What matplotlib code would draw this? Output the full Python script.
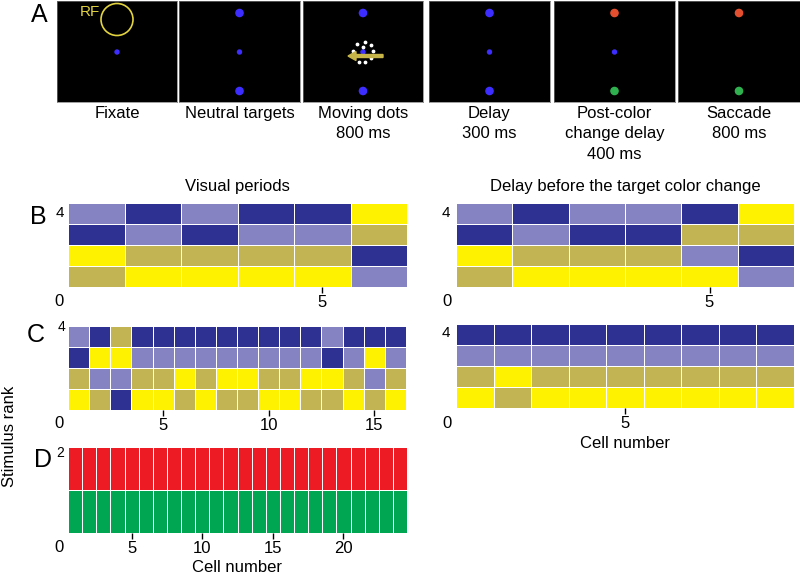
"""
Task schematic (A) and stimulus rank maps per cell (B-D)
"""

import numpy as np
import matplotlib.pyplot as plt
from matplotlib.colors import ListedColormap
from matplotlib.patches import Circle, FancyArrow

# ============ style ============
W, H = 800, 576
label_fontsize = 12
tick_fontsize = 12
letter_fontsize = 18
grid_linewidth = 0.5

plt.rcParams.update({
    'font.family': ['Liberation Sans', 'DejaVu Sans'],
    'font.size': label_fontsize,
    'xtick.labelsize': tick_fontsize,
    'figure.dpi': 100,
    'savefig.dpi': 100,
})

# ============ data ============
# colour codes: Y yellow, O olive, L light purple, D dark blue, R red, G green
code_colors = {'Y': '#FFF200', 'O': '#C3B453', 'L': '#8683C2',
               'D': '#2E3192', 'R': '#ED1C24', 'G': '#00A651'}
codes = list(code_colors.keys())

# rows listed from top (highest rank) to bottom (rank 1), one letter per cell
B_visual = ['LDLDDY',
            'DLDLLO',
            'YOOOOD',
            'OYYYYL']
B_delay = ['LDLLDY',
           'DLDDOO',
           'YOOOLD',
           'OYYYYL']
C_visual = ['LDODDDDDDDDDLDDD',
            'DYYLLLLLLLLLDLYL',
            'OLLOOYOYYOOYYOLO',
            'YODYYOYOOYYOOYOY']
C_delay = ['DDDDDDDDD',
           'LLLLLLLLL',
           'OYOOOOOOO',
           'YOYYYYYYY']
D_visual = ['RRRRRRRRRRRRRRRRRRRRRRRR',
            'GGGGGGGGGGGGGGGGGGGGGGGG']

B_xticks = [5]
C_visual_xticks = [5, 10, 15]
C_delay_xticks = [5]
D_xticks = [5, 10, 15, 20]

screen_labels = ['Fixate', 'Neutral targets', 'Moving dots\n800 ms',
                 'Delay\n300 ms', 'Post-color\nchange delay\n400 ms',
                 'Saccade\n800 ms']
screen_top = [None, 'blue', 'blue', 'blue', 'red', 'red']
screen_bottom = [None, 'blue', 'blue', 'blue', 'green', 'green']
screen_fix = [True, True, True, True, True, False]

target_colors = {'blue': '#3D2EFF', 'red': '#E4502F', 'green': '#2FB14F'}

# white motion dots around the RF centre (screen pixels)
motion_dots_x = [54, 62, 68, 70, 68, 62, 56, 50, 60]
motion_dots_y = [43, 41, 44, 50, 57, 61, 61, 50, 46]


# ============ helpers ============
def fig_rect(x, y, w, h):
    return [x / W, 1 - (y + h) / H, w / W, h / H]


def fig_xy(x, y):
    return x / W, 1 - y / H


def put_text(fig, x, y, s, **kw):
    fx, fy = fig_xy(x, y)
    fig.text(fx, fy, s, ha=kw.pop('ha', 'center'), va=kw.pop('va', 'center'), **kw)


def draw_screen(fig, rect, i):
    x0, y0, w, h = rect
    ax = fig.add_axes(fig_rect(*rect))
    ax.set_facecolor('black')
    ax.set_xlim(0, w)
    ax.set_ylim(h, 0)
    ax.set_xticks([])
    ax.set_yticks([])
    for sp in ax.spines.values():
        sp.set_color('#777777')
        sp.set_linewidth(0.5)
    cx = w / 2
    if screen_fix[i]:
        ax.add_patch(Circle((cx, 51), 2.0, color=target_colors['blue']))
    if screen_top[i]:
        ax.add_patch(Circle((cx, 12), 3.6, color=target_colors[screen_top[i]]))
    if screen_bottom[i]:
        ax.add_patch(Circle((cx, 90), 3.6, color=target_colors[screen_bottom[i]]))
    if i == 0:
        ax.add_patch(Circle((cx, 18.5), 16, fill=False, edgecolor='#E3D43F', linewidth=1.2))
        ax.text(33, 11, 'RF', color='#E3D43F', fontsize=11, ha='center', va='center')
    if i == 2:
        ax.scatter(motion_dots_x, motion_dots_y, s=3, color='white', zorder=3)
        ax.add_patch(FancyArrow(80, 55, -27, 0, width=3, head_width=9, head_length=8,
                                color='#C8B54A', length_includes_head=False, zorder=4))
    put_text(fig, x0 + w / 2, 106, screen_labels[i], va='top', linespacing=1.45,
             fontsize=label_fontsize)


def draw_rank_map(fig, rect, rows, xticks):
    ax = fig.add_axes(fig_rect(*rect))
    n_rows, n_cols = len(rows), len(rows[0])
    grid = np.array([[codes.index(c) for c in row] for row in rows[::-1]])
    cmap = ListedColormap([code_colors[c] for c in codes])
    ax.pcolormesh(np.arange(n_cols + 1) + 0.5, np.arange(n_rows + 1) + 0.5, grid,
                  cmap=cmap, vmin=-0.5, vmax=len(codes) - 0.5,
                  edgecolors='white', linewidth=grid_linewidth)
    ax.set_xlim(0.5, n_cols + 0.5)
    ax.set_ylim(0.5, n_rows + 0.5)
    ax.set_xticks(xticks)
    ax.set_yticks([])
    ax.tick_params(axis='x', direction='out', length=4.5, width=1, pad=1)
    for sp in ax.spines.values():
        sp.set_visible(False)
    return ax


# ============ main ============
def main():
    fig = plt.figure(figsize=(W / 100, H / 100))

    # ---- A: task screens
    screen_rects = [(57, 1, 120, 101), (179, 1, 121, 101), (303, 1, 120, 101),
                    (429, 1, 121, 101), (554, 1, 121, 101), (678, 1, 122, 101)]
    for i, rect in enumerate(screen_rects):
        draw_screen(fig, rect, i)

    # ---- B-D: rank maps
    draw_rank_map(fig, (68, 203, 339, 84), B_visual, B_xticks)
    draw_rank_map(fig, (456, 203, 338, 84), B_delay, B_xticks)
    draw_rank_map(fig, (68, 326, 338, 84), C_visual, C_visual_xticks)
    draw_rank_map(fig, (456, 324, 338, 84), C_delay, C_delay_xticks)
    draw_rank_map(fig, (68, 447, 339, 86), D_visual, D_xticks)

    put_text(fig, 237, 187, 'Visual periods', fontsize=label_fontsize)
    put_text(fig, 625, 187, 'Delay before the target color change', fontsize=label_fontsize)

    # corner labels of each map
    for x, y in [(59, 301), (447, 301), (59, 423), (447, 423), (59, 548)]:
        put_text(fig, x, y, '0', fontsize=tick_fontsize)
    put_text(fig, 60, 213, '4', fontsize=11)
    put_text(fig, 446, 213, '4', fontsize=11)
    put_text(fig, 62, 327, '4', fontsize=10)
    put_text(fig, 446, 333, '4', fontsize=11)
    put_text(fig, 60, 453, '2', fontsize=10)

    put_text(fig, 625, 443, 'Cell number', fontsize=label_fontsize)
    put_text(fig, 237, 568, 'Cell number', fontsize=label_fontsize)
    put_text(fig, 10, 436, 'Stimulus rank', rotation=90, fontsize=label_fontsize)

    # panel letters
    for s, x, y in [('A', 39, 15), ('B', 38, 217), ('C', 36, 335), ('D', 43, 460)]:
        put_text(fig, x, y, s, fontsize=letter_fontsize)

    fig.savefig('out.png', dpi=100, facecolor='white')


if __name__ == '__main__':
    main()
